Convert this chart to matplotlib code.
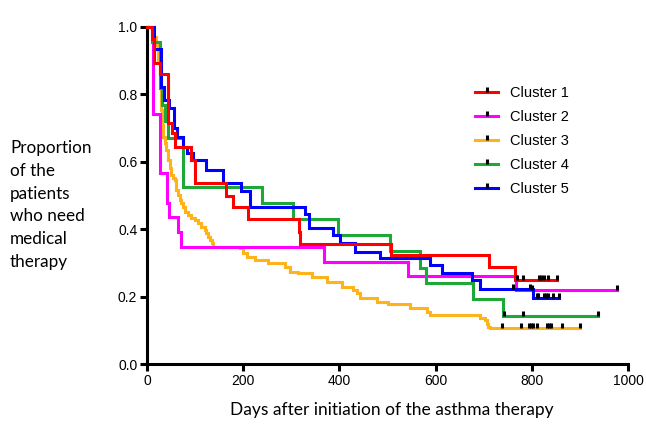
import matplotlib
matplotlib.use("Agg")
import matplotlib.pyplot as plt
from matplotlib.path import Path
from matplotlib.lines import Line2D
import numpy as np

# Kaplan-Meier style steps: day of each drop and the proportion after it
c1_days = [10, 14.5, 27, 44, 51.5, 58, 92, 100, 164, 179, 209, 315, 319, 508, 710, 765]
c1_vals = [0.964, 0.894, 0.86, 0.714, 0.684, 0.645, 0.605, 0.538, 0.50, 0.465,
           0.43, 0.393, 0.357, 0.322, 0.287, 0.25]
c1_end = 853
c1_cens = [770, 782, 816, 820, 826, 834, 853]

c2_days = [13, 27, 41, 45, 64, 71, 367, 543, 767]
c2_vals = [0.741, 0.567, 0.478, 0.436, 0.393, 0.348, 0.304, 0.261, 0.22]
c2_end = 977
c2_cens = [800, 977]

c3_days = [12, 17.7, 22.9, 27, 29.1, 31.2, 33.3, 37.4, 40.5, 43.7, 46.8, 50.5, 54.1,
           57.6, 60.9, 64.4, 68.6, 71.3, 74.8, 78.4, 85.2, 92.1, 99.8, 106, 112.3,
           120, 123.7, 126.8, 131, 134.1, 137.2, 193.3, 200.2, 207.3, 224.5, 252.2,
           286.9, 297.3, 314.6, 342.4, 373.6, 404.8, 428.9, 436, 442.8, 477.5, 501.7,
           546.8, 581.5, 588.4, 692.3, 702.7, 706.9, 709.6, 713.1]
c3_vals = [0.97, 0.947, 0.892, 0.852, 0.754, 0.709, 0.675, 0.655, 0.635, 0.605, 0.582,
           0.561, 0.552, 0.546, 0.516, 0.501, 0.487, 0.477, 0.466, 0.452, 0.442, 0.432,
           0.427, 0.417, 0.407, 0.398, 0.388, 0.378, 0.368, 0.358, 0.348, 0.343, 0.328,
           0.318, 0.309, 0.299, 0.289, 0.274, 0.269, 0.259, 0.244, 0.229, 0.22, 0.21,
           0.195, 0.185, 0.178, 0.165, 0.155, 0.145, 0.136, 0.13, 0.12, 0.111, 0.106]
c3_end = 900
c3_cens = [739, 777, 795, 798, 803, 810, 831, 836, 839, 862, 900]

c4_days = [10, 28, 32, 38, 44, 75, 240, 304, 398, 505, 568, 581, 678, 741]
c4_vals = [0.955, 0.82, 0.77, 0.72, 0.67, 0.524, 0.477, 0.43, 0.383, 0.334, 0.285,
           0.239, 0.192, 0.143]
c4_end = 938
c4_cens = [742, 782, 938]

c5_days = [15, 30, 35, 45, 57, 62, 75, 83, 96, 123, 157, 196, 215, 328, 336, 387, 401,
           432, 484, 588, 613, 675, 692, 803]
c5_vals = [0.935, 0.823, 0.783, 0.759, 0.70, 0.675, 0.645, 0.625, 0.605, 0.576, 0.536,
           0.514, 0.467, 0.446, 0.403, 0.383, 0.358, 0.333, 0.314, 0.294, 0.269, 0.249,
           0.222, 0.197]
c5_end = 857
c5_cens = [761, 796, 810, 813, 826, 830, 834, 845, 857]

labels = ["Cluster 1", "Cluster 2", "Cluster 3", "Cluster 4", "Cluster 5"]
colors = ["#ff0000", "#ff00ff", "#ffb31a", "#1fa83a", "#0000ff"]

curves = [(c1_days, c1_vals, c1_end, c1_cens),
          (c2_days, c2_vals, c2_end, c2_cens),
          (c3_days, c3_vals, c3_end, c3_cens),
          (c4_days, c4_vals, c4_end, c4_cens),
          (c5_days, c5_vals, c5_end, c5_cens)]
zorders = [6, 3, 2, 4, 5]

# small upward tick used for censored patients
tick = Path([(0, 0), (0, 1)], [Path.MOVETO, Path.LINETO])

W, H = 646, 433
fig = plt.figure(figsize=(W / 100, H / 100), dpi=100)
ax = fig.add_axes([147 / W, 1 - 364 / H, (628 - 147) / W, (364 - 27) / H])

for (days, vals, end, cens), col, lab, z in zip(curves, colors, labels, zorders):
    x = [0] + days + [end]
    y = [1.0] + vals + [vals[-1]]
    ax.step(x, y, where="post", color=col, lw=2.2, clip_on=False, zorder=z,
            solid_joinstyle="miter")
    # censor marks sit on the curve at their day
    idx = np.searchsorted(np.array(days), np.array(cens), side="right") - 1
    cy = [vals[i] if i >= 0 else 1.0 for i in idx]
    ax.plot(cens, cy, ls="none", marker=tick, ms=6.5, mew=2.2, mec="black",
            clip_on=False, zorder=7)

ax.set_xlim(0, 1000)
ax.set_ylim(0, 1.0)
ax.set_xticks([0, 200, 400, 600, 800, 1000])
ax.set_yticks([0, 0.2, 0.4, 0.6, 0.8, 1.0])
ax.set_yticklabels(["0.0", "0.2", "0.4", "0.6", "0.8", "1.0"])
for s in ["top", "right"]:
    ax.spines[s].set_visible(False)
for s in ["left", "bottom"]:
    ax.spines[s].set_linewidth(2.2)
ax.tick_params(direction="out", length=5, width=2.2, labelsize=10, pad=2)
for t in ax.get_xticklabels() + ax.get_yticklabels():
    t.set_fontfamily("Liberation Sans")

handles = [Line2D([], [], color=c, lw=2.2, marker=tick, ms=6.5, mew=2.2, mec="black")
           for c in colors]
fig.legend(handles, labels, loc="upper left", bbox_to_anchor=(475 / W, 1 - 86 / H),
           frameon=False, numpoints=1, handlelength=1.6, handletextpad=0.8,
           labelspacing=0.68, borderpad=0, borderaxespad=0,
           prop={"family": "Liberation Sans", "size": 10.5})

fig.text(392 / W, 1 - 410 / H, "Days after initiation of the asthma therapy",
         ha="center", va="center", fontsize=12.5, family="Lato")
fig.text(10 / W, 1 - 205 / H, "Proportion\nof the\npatients\nwho need\nmedical\ntherapy",
         ha="left", va="center", fontsize=12.3, family="Lato", linespacing=1.52)

fig.savefig("out.png", dpi=100)
